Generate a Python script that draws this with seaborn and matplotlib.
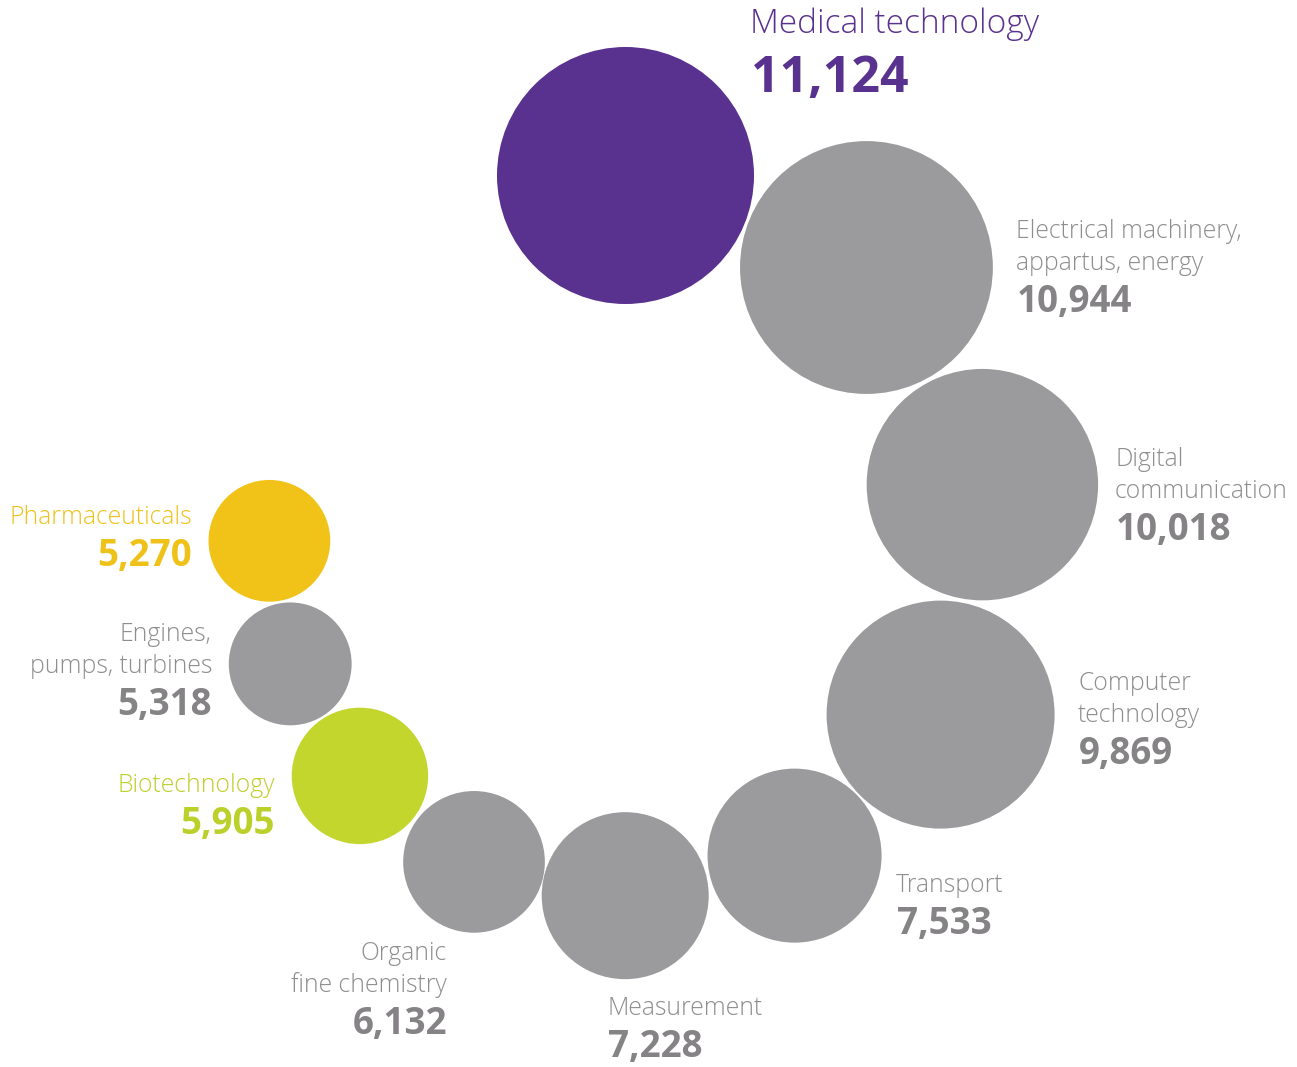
import numpy as np
import pandas as pd
import matplotlib
matplotlib.use("Agg")
import matplotlib.pyplot as plt
import seaborn as sns

# ---- data ----
categories = ["Medical technology", "Electrical machinery, appartus, energy",
              "Digital communication", "Computer technology", "Transport",
              "Measurement", "Organic fine chemistry", "Biotechnology",
              "Engines, pumps, turbines", "Pharmaceuticals"]
values = [11124, 10944, 10018, 9869, 7533, 7228, 6132, 5905, 5318, 5270]
label_lines = [["Medical technology"], ["Electrical machinery,", "appartus, energy"],
               ["Digital", "communication"], ["Computer", "technology"], ["Transport"],
               ["Measurement"], ["Organic", "fine chemistry"], ["Biotechnology"],
               ["Engines,", "pumps, turbines"], ["Pharmaceuticals"]]
value_labels = ["11,124", "10,944", "10,018", "9,869", "7,533", "7,228",
                "6,132", "5,905", "5,318", "5,270"]

# ---- styles / layout ----
PURPLE, GREY, YELLOW, GREEN = "#59318F", "#9B9A9C", "#F1C319", "#C3D62E"
colors = [PURPLE, GREY, GREY, GREY, GREY, GREY, GREY, GREEN, GREY, YELLOW]
text_colors = [PURPLE, "#8F8D8F", "#8F8D8F", "#8F8D8F", "#8F8D8F", "#8F8D8F",
               "#8F8D8F", "#BBD02A", "#8F8D8F", "#EFC21A"]
num_colors = [PURPLE, "#858385", "#858385", "#858385", "#858385", "#858385",
              "#858385", "#BBD02A", "#858385", "#EFC21A"]
px_per_unit = 128.5 / 11124          # bubble radius (px) per value unit
start = (625.5, 175.5)               # centre of first bubble (px)
step_angles = [20.9, 61.9, 100.3, 136.0, 166.7, 192.6, 217.0, 238.1, 260.4]
step_gaps = [3.0, 4.0, 4.0, 2.0, 3.5, 0.6, 3.8, 2.3, 2.5]
# label anchor: (x, first-line baseline, ha)
label_anchor = [(750, 33, "left"), (1016, 238, "left"), (1115, 466, "left"),
                (1078, 690, "left"), (896, 892, "left"), (607, 1015, "left"),
                (447, 960, "right"), (275, 792, "right"), (212, 641, "right"),
                (192, 524, "right")]

W, H, DPI = 1297, 1067, 100
radii = np.array(values) * px_per_unit
xs, ys = [start[0]], [start[1]]
for i, (a, g) in enumerate(zip(step_angles, step_gaps)):
    d = radii[i] + radii[i + 1] + g
    xs.append(xs[-1] + d * np.cos(np.radians(a)))
    ys.append(ys[-1] + d * np.sin(np.radians(a)))

area = (2 * radii * 72 / DPI) ** 2
df = pd.DataFrame({"category": categories, "value": values, "x": xs, "y": ys, "area": area})

sns.set_theme(style="white")
plt.rcParams["font.family"] = ["Open Sans", "DejaVu Sans"]
fig = plt.figure(figsize=(W / DPI, H / DPI), dpi=DPI)
ax = fig.add_axes([0, 0, 1, 1])
sns.scatterplot(data=df, x="x", y="y", hue="category",
                palette=dict(zip(categories, colors)),
                size="area", sizes=(area.min(), area.max()),
                size_norm=(area.min(), area.max()),
                linewidth=0, alpha=1, legend=False, ax=ax)
ax.set_xlim(0, W)
ax.set_ylim(H, 0)
ax.set_axis_off()

for i in range(len(categories)):
    x0, y0, ha = label_anchor[i]
    big = i == 0
    lh = 32
    fs_name = 24 if big else 17.8
    fs_num = 36 if big else 26.5
    for j, line in enumerate(label_lines[i]):
        ax.text(x0, y0 + j * lh, line, ha=ha, va="baseline", fontsize=fs_name,
                color=text_colors[i], fontweight="light")
    ny = y0 + (len(label_lines[i]) - 1) * lh + (59 if big else 42)
    ax.text(x0 + (0 if ha == "right" else 1), ny, value_labels[i], ha=ha, va="baseline",
            fontsize=fs_num, color=num_colors[i], fontweight="bold")

fig.savefig("out.png", dpi=DPI)
